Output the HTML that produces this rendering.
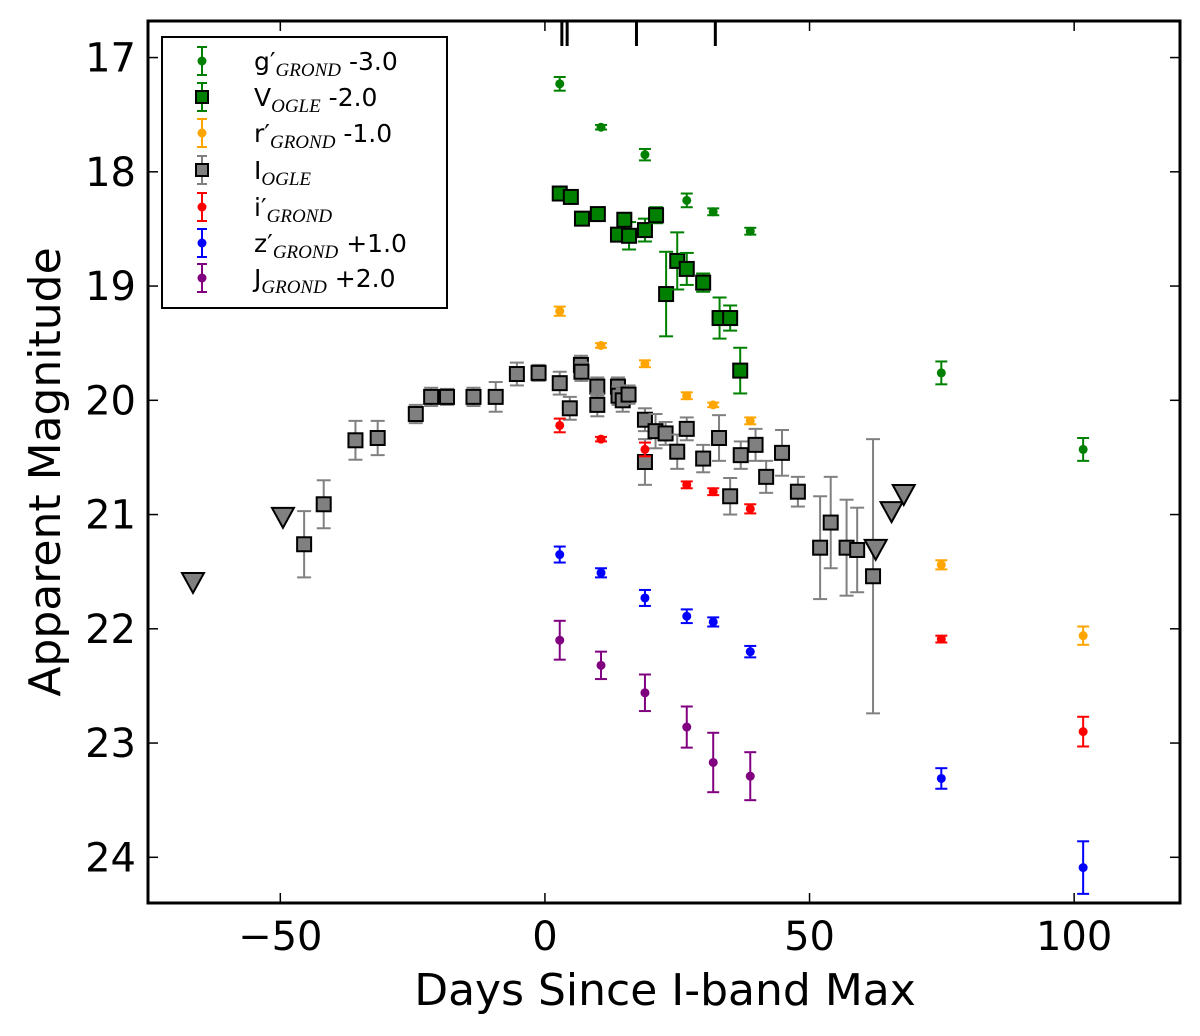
<!DOCTYPE html>
<html><head><meta charset="utf-8"><style>
html,body{margin:0;padding:0;background:#fff;}
svg{display:block;font-family:"DejaVu Sans","Liberation Sans",sans-serif;}
</style></head><body>
<svg id="chart" width="1200" height="1036" viewBox="0 0 1200 1036" xmlns="http://www.w3.org/2000/svg">
<rect x="0" y="0" width="1200" height="1036" fill="#fff"/>
<g id="marks"></g>
<g id="axes"></g>
<text x="0" y="0" transform="translate(60,472) rotate(-90)" text-anchor="middle" font-size="44">Apparent Magnitude</text>
<text x="665" y="1005" text-anchor="middle" font-size="44">Days Since I-band Max</text>
<g id="legend"></g>
</svg>
<script>
const xTicks = [-50, 0, 50, 100];
const yTicks = [17, 18, 19, 20, 21, 22, 23, 24];
const spectraEpochs = [3.2, 4.2, 17.3, 32.2];
const gX = [2.8, 10.6, 18.9, 26.8, 31.8, 38.8, 74.9, 101.7];
const gY = [17.23, 17.61, 17.85, 18.25, 18.35, 18.52, 19.76, 20.43];
const gE = [0.06, 0.02, 0.05, 0.06, 0.03, 0.03, 0.1, 0.1];
const vX = [2.8, 4.9, 7.0, 10.0, 13.8, 15.9, 15.0, 18.9, 21.0, 22.9, 25.0, 26.8, 29.9, 33.0, 35.0, 36.9];
const vY = [18.19, 18.22, 18.41, 18.37, 18.55, 18.56, 18.42, 18.51, 18.38, 19.07, 18.78, 18.85, 18.97, 19.28, 19.28, 19.74];
const vE = [0.03, 0.03, 0.03, 0.03, 0.05, 0.12, 0.06, 0.1, 0.07, 0.37, 0.25, 0.14, 0.08, 0.18, 0.11, 0.2];
const rX = [2.8, 10.6, 18.9, 26.8, 31.8, 38.8, 74.9, 101.7];
const rY = [19.22, 19.52, 19.68, 19.96, 20.04, 20.18, 21.44, 22.06];
const rE = [0.04, 0.02, 0.03, 0.03, 0.02, 0.03, 0.04, 0.08];
const iX = [-45.5, -41.8, -35.8, -31.6, -24.4, -21.5, -18.5, -13.5, -9.3, -5.3, -1.2, 2.8, 4.7, 6.8, 6.9, 9.9, 9.9, 13.8, 13.9, 14.7, 15.8, 18.9, 18.9, 20.9, 22.8, 25.0, 26.8, 29.9, 32.9, 35.0, 37.0, 39.8, 41.8, 44.8, 47.8, 52.0, 54.0, 57.0, 59.0, 62.0];
const iY = [21.26, 20.91, 20.35, 20.33, 20.12, 19.97, 19.97, 19.97, 19.97, 19.77, 19.76, 19.85, 20.07, 19.69, 19.75, 19.88, 20.04, 19.88, 19.96, 20.0, 19.95, 20.17, 20.54, 20.27, 20.29, 20.45, 20.25, 20.51, 20.33, 20.84, 20.48, 20.39, 20.67, 20.46, 20.8, 21.29, 21.07, 21.29, 21.31, 21.54];
const iE = [0.29, 0.21, 0.17, 0.15, 0.08, 0.08, 0.07, 0.08, 0.13, 0.1, 0.07, 0.1, 0.1, 0.08, 0.08, 0.08, 0.1, 0.08, 0.08, 0.1, 0.08, 0.1, 0.2, 0.15, 0.1, 0.15, 0.1, 0.12, 0.2, 0.16, 0.12, 0.14, 0.14, 0.2, 0.13, 0.45, 0.4, 0.42, 0.37, 1.2];
const limX = [-66.5, -49.5, 62.5, 65.5, 67.8];
const limY = [21.59, 21.02, 21.3, 20.97, 20.82];
const ipX = [2.8, 10.6, 18.9, 26.8, 31.8, 38.8, 74.9, 101.7];
const ipY = [20.22, 20.34, 20.43, 20.74, 20.8, 20.95, 22.09, 22.9];
const ipE = [0.06, 0.02, 0.06, 0.03, 0.03, 0.04, 0.03, 0.13];
const zX = [2.8, 10.6, 18.9, 26.8, 31.8, 38.8, 74.9, 101.7];
const zY = [21.35, 21.51, 21.73, 21.89, 21.94, 22.2, 23.31, 24.09];
const zE = [0.07, 0.04, 0.07, 0.06, 0.04, 0.05, 0.09, 0.23];
const jX = [2.8, 10.6, 18.9, 26.8, 31.8, 38.8];
const jY = [22.1, 22.32, 22.56, 22.86, 23.17, 23.29];
const jE = [0.17, 0.12, 0.16, 0.18, 0.26, 0.21];

const L = 148, R = 1180, T = 21, B = 903;
const XMIN = -75, XMAX = 120, YMIN = 16.68, YMAX = 24.4;
function sx(v){ return L + (v - XMIN) / (XMAX - XMIN) * (R - L); }
function sy(v){ return T + (v - YMIN) / (YMAX - YMIN) * (B - T); }
const NS = 'http://www.w3.org/2000/svg';
function mk(tag, attrs, parent){
  const e = document.createElementNS(NS, tag);
  for (const k in attrs) e.setAttribute(k, attrs[k]);
  parent.appendChild(e);
  return e;
}
const marks = document.getElementById('marks');
const axes = document.getElementById('axes');

function errbar(g, px, py, ePx, color, cap){
  mk('line', {x1:px, y1:py-ePx, x2:px, y2:py+ePx, stroke:color, 'stroke-width':2}, g);
  mk('line', {x1:px-cap, y1:py-ePx, x2:px+cap, y2:py-ePx, stroke:color, 'stroke-width':2}, g);
  mk('line', {x1:px-cap, y1:py+ePx, x2:px+cap, y2:py+ePx, stroke:color, 'stroke-width':2}, g);
}
function drawSeries(name, xs, ys, es, color, kind, fill){
  const g = mk('g', {}, marks);
  
  
  for (let i = 0; i < xs.length; i++){
    const px = sx(xs[i]), py = sy(ys[i]);
    const ePx = es[i] * (B - T) / (YMAX - YMIN);
    const p = mk('g', {}, g);
    
    
    errbar(p, px, py, ePx, color, kind === 'square' ? 7 : 6);
    if (kind === 'square'){
      mk('rect', {x:px-7, y:py-7, width:14, height:14, fill:fill, stroke:'#000', 'stroke-width':2}, p);
    } else {
      mk('circle', {cx:px, cy:py, r:4.5, fill:color}, p);
    }
  }
}
drawSeries('i-ogle', iX, iY, iE, '#808080', 'square', '#808080');
drawSeries('v-ogle', vX, vY, vE, '#008000', 'square', '#008000');
drawSeries('g-grond', gX, gY, gE, '#008000', 'circle');
drawSeries('r-grond', rX, rY, rE, '#ffa500', 'circle');
drawSeries('i-grond', ipX, ipY, ipE, '#ff0000', 'circle');
drawSeries('z-grond', zX, zY, zE, '#0000ff', 'circle');
drawSeries('j-grond', jX, jY, jE, '#800080', 'circle');
(function(){
  const g = mk('g', {}, marks);
  
  
  for (let i = 0; i < limX.length; i++){
    const px = sx(limX[i]), py = sy(limY[i]);
    const t = mk('polygon', {points:`${px-11},${py-9} ${px+11},${py-9} ${px},${py+11}`, fill:'#808080', stroke:'#000', 'stroke-width':2}, g);
    
    
  }
})();

const frame = mk('rect', {x:L, y:T, width:R-L, height:B-T, fill:'none', stroke:'#000', 'stroke-width':3}, axes);


xTicks.forEach(v => {
  const px = sx(v);
  mk('line', {x1:px, y1:B, x2:px, y2:B-10, stroke:'#000', 'stroke-width':1.5}, axes);
  mk('line', {x1:px, y1:T, x2:px, y2:T+10, stroke:'#000', 'stroke-width':1.5}, axes);
  const t = mk('text', {x:px, y:950, 'text-anchor':'middle', 'font-size':40}, axes);
  t.textContent = v < 0 ? '\u2212' + Math.abs(v) : String(v);
  
  
});
yTicks.forEach(v => {
  const py = sy(v);
  mk('line', {x1:L, y1:py, x2:L+10, y2:py, stroke:'#000', 'stroke-width':1.5}, axes);
  mk('line', {x1:R, y1:py, x2:R-10, y2:py, stroke:'#000', 'stroke-width':1.5}, axes);
  const t = mk('text', {x:136, y:py+14, 'text-anchor':'end', 'font-size':40}, axes);
  t.textContent = String(v);
  
  
});
spectraEpochs.forEach(v => {
  const px = sx(v);
  const l = mk('line', {x1:px, y1:T, x2:px, y2:T+25, stroke:'#000', 'stroke-width':3}, axes);
  
  
});

const leg = document.getElementById('legend');
mk('rect', {x:162, y:37, width:285, height:271, fill:'#fff', stroke:'#000', 'stroke-width':2}, leg);
const legItems = [
  ['g\u2032', 'GROND', ' -3.0', '#008000', 'circle', null],
  ['V', 'OGLE', ' -2.0', '#008000', 'square', '#008000'],
  ['r\u2032', 'GROND', ' -1.0', '#ffa500', 'circle', null],
  ['I', 'OGLE', '', '#808080', 'square', '#808080'],
  ['i\u2032', 'GROND', '', '#ff0000', 'circle', null],
  ['z\u2032', 'GROND', ' +1.0', '#0000ff', 'circle', null],
  ['J', 'GROND', ' +2.0', '#800080', 'circle', null]
];
const legY = [61, 97, 133, 170, 207, 243, 278];
legItems.forEach((it, k) => {
  const y = legY[k];
  const g = mk('g', {}, leg);
  
  
  errbar(g, 202, y, 14, it[3], 5);
  if (it[4] === 'square') mk('rect', {x:196, y:y-6, width:12, height:12, fill:it[5], stroke:'#000', 'stroke-width':2}, g);
  else mk('circle', {cx:202, cy:y, r:4.5, fill:it[3]}, g);
  const t = mk('text', {x:254, y:y+9, 'font-size':25}, g);
  const a = mk('tspan', {}, t); a.textContent = it[0];
  const b = mk('tspan', {'font-family':'"Liberation Serif",serif', 'font-style':'italic', 'font-size':19, dy:6}, t); b.textContent = it[1];
  const c = mk('tspan', {dy:-6}, t); c.textContent = it[2];
});
</script>
</body></html>
